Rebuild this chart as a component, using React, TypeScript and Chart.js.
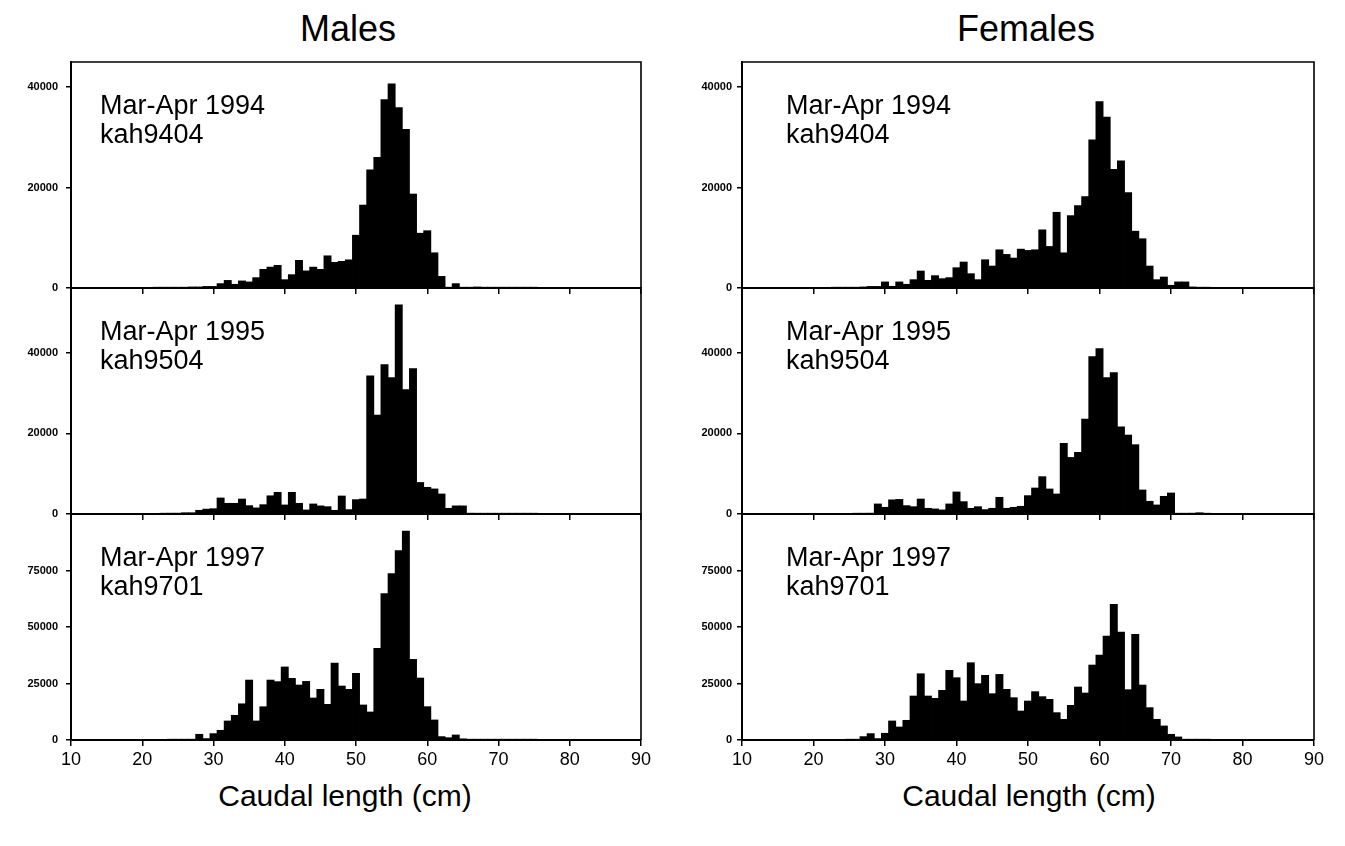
import React, { useEffect, useRef } from 'react';
import { Chart, registerables } from 'chart.js';

Chart.register(...registerables);

// Caudal length bins (cm), centre of each 1-cm bin
const lengthBins = [
  20, 21, 22, 23, 24, 25, 26, 27, 28, 29,
  30, 31, 32, 33, 34, 35, 36, 37, 38, 39,
  40, 41, 42, 43, 44, 45, 46, 47, 48, 49,
  50, 51, 52, 53, 54, 55, 56, 57, 58, 59,
  60, 61, 62, 63, 64, 65, 66, 67, 68, 69,
  70, 71, 72, 73, 74, 75,
];

const males1994 = [
  0, 0, 100, 100, 100, 100, 100, 200, 200, 300,
  300, 860, 1500, 730, 1400, 1200, 2050, 3700, 4150, 4500,
  1650, 2650, 5500, 3400, 4150, 3700, 6400, 5100, 5300, 5600,
  10500, 16500, 23500, 26000, 37500, 40650, 35900, 31600, 18700, 10900,
  11400, 7000, 2300, 100, 860, 100, 100, 200, 100, 100,
  100, 100, 100, 100, 100, 100,
];

const males1995 = [
  0, 0, 0, 100, 200, 200, 300, 300, 900, 1200,
  1300, 3960, 2640, 2640, 3700, 2060, 1500, 2300, 4500, 5360,
  2230, 5360, 2640, 990, 2475, 2000, 1800, 900, 4450, 1070,
  3550, 3700, 34240, 24500, 37000, 33800, 51800, 30800, 36000, 7800,
  6600, 6200, 4950, 1400, 2000, 2000, 200, 100, 100, 100,
  100, 100, 100, 100, 100, 100,
];

const males1997 = [
  0, 0, 0, 0, 100, 100, 200, 300, 2500, 600,
  2800, 4270, 8400, 10900, 16000, 26500, 8400, 14700, 26500, 25800,
  32300, 27250, 24300, 25900, 18560, 22400, 15760, 34000, 23860, 22400,
  29460, 15470, 12370, 40500, 64800, 73650, 83800, 92360, 35650, 27400,
  14730, 8840, 1470, 1000, 2200, 500, 300, 200, 200, 200,
  200, 200, 200, 200, 200, 200,
];

const females1994 = [
  0, 0, 0, 100, 100, 100, 100, 200, 300, 300,
  1200, 330, 1200, 730, 1650, 3370, 1520, 2450, 1850, 2050,
  4030, 5160, 2840, 1650, 5620, 4360, 7600, 6680, 5950, 7730,
  7470, 7600, 11570, 8260, 15070, 7000, 14400, 16400, 18200, 29500,
  37100, 34000, 23600, 25300, 19000, 11300, 9800, 4360, 1650, 2180,
  530, 1200, 1200, 200, 100, 100,
];

const females1995 = [
  0, 0, 0, 0, 0, 0, 100, 100, 200, 2480,
  1650, 3500, 3600, 2060, 1800, 3700, 1400, 1240, 1000, 2480,
  5450, 3050, 1400, 1800, 1070, 1400, 4125, 1400, 1650, 1900,
  4540, 6430, 9240, 6190, 4950, 17500, 14000, 15260, 23500, 39000,
  41000, 33800, 35000, 21600, 19550, 17160, 5940, 3140, 2230, 4370,
  5200, 100, 100, 200, 300, 100,
];

const females1997 = [
  0, 0, 0, 0, 0, 200, 300, 1470, 2800, 600,
  2950, 8400, 5740, 8690, 19440, 29300, 19440, 18400, 21950, 30800,
  27540, 17230, 34170, 24900, 28580, 20470, 29000, 22390, 18700, 12800,
  17230, 21360, 19150, 17970, 12080, 9130, 15320, 23420, 20770, 33140,
  37560, 45960, 59950, 47700, 22240, 46700, 24300, 14290, 9130, 6190,
  2500, 1330, 300, 200, 100, 100,
];

const xTickValues = [10, 20, 30, 40, 50, 60, 70, 80, 90];
const yTicksUpper = [0, 20000, 40000];
const yTicksLower = [0, 25000, 50000, 75000];

const periodLabels = ['Mar-Apr 1994', 'Mar-Apr 1995', 'Mar-Apr 1997'];
const cruiseLabels = ['kah9404', 'kah9504', 'kah9701'];
const yMaxByRow = [45000, 56000, 100000];

const FONT = "'Liberation Sans', Arial, Helvetica, sans-serif";

// layout
const ROW_TOPS = [62, 288, 514];
const ROW_H = 226;
const PAD_TOP = 20;
const COLS = [
  { plotLeft: 71, plotRight: 641, canvasLeft: 0, labelPad: 8, textLeft: 100, titleCenter: 348, axisCenter: 345, title: 'Males' },
  { plotLeft: 742, plotRight: 1314, canvasLeft: 680, labelPad: 5, textLeft: 786, titleCenter: 1026, axisCenter: 1029, title: 'Females' },
];

const framePlugin = {
  id: 'frame',
  afterDraw(chart: any) {
    const { ctx, chartArea } = chart;
    const { left, right, top, bottom } = chartArea;
    ctx.save();
    ctx.strokeStyle = '#000';
    ctx.lineWidth = 1.6;
    ctx.beginPath();
    ctx.moveTo(left, top);
    ctx.lineTo(right, top);
    ctx.lineTo(right, bottom);
    ctx.stroke();
    ctx.restore();
  },
};

type PanelProps = {
  values: number[];
  yMax: number;
  yTicks: number[];
  showX: boolean;
  col: typeof COLS[number];
  rowTop: number;
};

function Panel({ values, yMax, yTicks, showX, col, rowTop }: PanelProps) {
  const ref = useRef<HTMLCanvasElement>(null);
  const xAxisH = showX ? 36 : 20;
  const width = col.plotRight - col.canvasLeft + 22;
  const height = PAD_TOP + ROW_H + xAxisH;
  const yAxisW = col.plotLeft - col.canvasLeft;

  useEffect(() => {
    const canvas = ref.current;
    if (!canvas) return;
    const chart = new Chart(canvas, {
      type: 'bar',
      data: {
        datasets: [
          {
            data: lengthBins.map((x, i) => ({ x, y: values[i] })),
            backgroundColor: '#000',
            borderWidth: 0,
            barPercentage: 1,
            categoryPercentage: 1,
            inflateAmount: 0.4,
          } as any,
        ],
      },
      options: {
        animation: false,
        responsive: false,
        maintainAspectRatio: false,
        layout: { padding: { top: PAD_TOP, right: width - (col.plotRight - col.canvasLeft), left: 0, bottom: 0 } },
        plugins: { legend: { display: false }, tooltip: { enabled: false }, title: { display: false } },
        scales: {
          x: {
            type: 'linear',
            min: 10,
            max: 90,
            offset: false,
            grid: { display: true, offset: false, drawOnChartArea: false, drawTicks: true, tickLength: 6, color: '#000', lineWidth: 1.5 },
            border: { display: true, color: '#000', width: 2 },
            ticks: {
              display: showX,
              color: '#000',
              padding: 3,
              maxRotation: 0,
              autoSkip: false,
              font: { family: FONT, size: 18 },
            },
            afterBuildTicks: (s: any) => {
              s.ticks = xTickValues.map((v) => ({ value: v }));
            },
            afterFit: (s: any) => {
              s.height = xAxisH;
            },
          },
          y: {
            type: 'linear',
            min: 0,
            max: yMax,
            grid: { display: true, drawOnChartArea: false, drawTicks: true, tickLength: 5, color: '#000', lineWidth: 1.5 },
            border: { display: true, color: '#000', width: 2 },
            ticks: {
              color: '#000',
              padding: col.labelPad,
              font: { family: FONT, size: 11, weight: 'bold' },
              callback: (v: any) => String(v),
            },
            afterBuildTicks: (s: any) => {
              s.ticks = yTicks.map((v) => ({ value: v }));
            },
            afterFit: (s: any) => {
              s.width = yAxisW;
            },
          },
        },
      } as any,
      plugins: [framePlugin],
    });
    return () => chart.destroy();
  }, []);

  return (
    <canvas
      ref={ref}
      width={width}
      height={height}
      style={{ position: 'absolute', left: col.canvasLeft, top: rowTop - PAD_TOP, width, height }}
    />
  );
}

const seriesByCol = [
  [males1994, males1995, males1997],
  [females1994, females1995, females1997],
];

export default function App() {
  return (
    <div
      style={{
        position: 'absolute',
        left: 0,
        top: 0,
        width: 1345,
        height: 846,
        background: '#fff',
        fontFamily: FONT,
        color: '#000',
        overflow: 'hidden',
      }}
    >
      {COLS.map((col, ci) => (
        <React.Fragment key={col.title}>
          <div
            style={{
              position: 'absolute',
              left: col.titleCenter - 150,
              width: 300,
              top: 11,
              fontSize: 36,
              lineHeight: '36px',
              textAlign: 'center',
            }}
          >
            {col.title}
          </div>
          {[0, 1, 2].map((ri) => (
            <Panel
              key={ri}
              values={seriesByCol[ci][ri]}
              yMax={yMaxByRow[ri]}
              yTicks={ri === 2 ? yTicksLower : yTicksUpper}
              showX={ri === 2}
              col={col}
              rowTop={ROW_TOPS[ri]}
            />
          ))}
          {[0, 1, 2].map((ri) => (
            <div
              key={'t' + ri}
              style={{
                position: 'absolute',
                left: col.textLeft,
                top: ROW_TOPS[ri] + 29,
                fontSize: 27,
                lineHeight: '29px',
                whiteSpace: 'nowrap',
              }}
            >
              <div>{periodLabels[ri]}</div>
              <div>{cruiseLabels[ri]}</div>
            </div>
          ))}
          <div
            style={{
              position: 'absolute',
              left: col.axisCenter - 200,
              width: 400,
              top: 781,
              fontSize: 30,
              lineHeight: '30px',
              textAlign: 'center',
              whiteSpace: 'nowrap',
            }}
          >
            Caudal length (cm)
          </div>
        </React.Fragment>
      ))}
    </div>
  );
}
